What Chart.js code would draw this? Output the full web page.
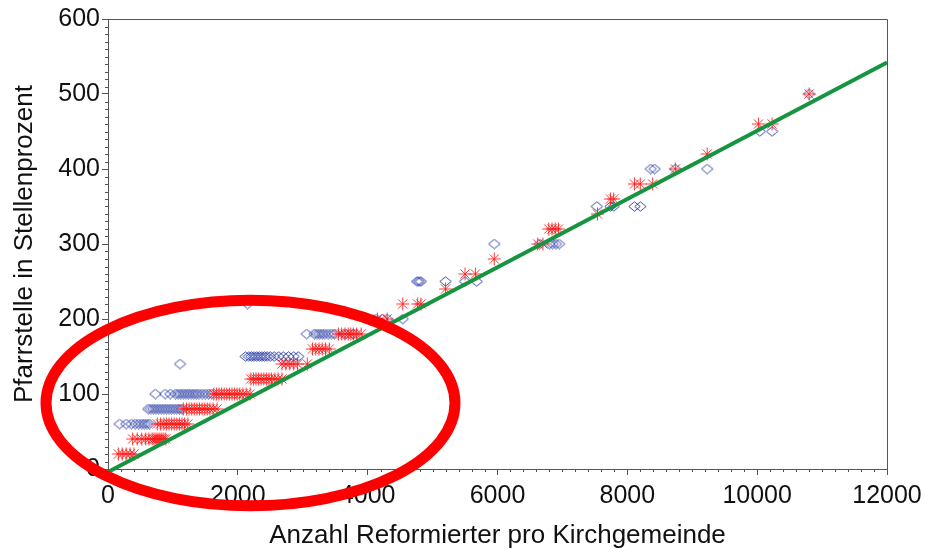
<!DOCTYPE html>
<html>
<head>
<meta charset="utf-8">
<script src="https://cdn.jsdelivr.net/npm/chart.js@4"></script>
<style>
  html, body { margin: 0; padding: 0; background: #ffffff; }
  #wrap { width: 925px; height: 549px; }
</style>
</head>
<body>
<div id="wrap"><canvas id="chart" width="925" height="549"></canvas></div>
<script>
// Pfarrstellen (in %) against number of Reformed members per parish
const diamondPoints = [
  [180, 60], [280, 60], [360, 60], [420, 60], [470, 60], [520, 60], [560, 60], [600, 60], [640, 60],
  [620, 80], [660, 80], [700, 80], [740, 80], [780, 80], [820, 80], [860, 80], [900, 80], [940, 80],
  [980, 80], [1020, 80], [1060, 80], [1100, 80], [1140, 80],
  [730, 100], [880, 100], [960, 100], [1040, 100], [1080, 100], [1120, 100], [1160, 100], [1200, 100],
  [1240, 100], [1280, 100], [1320, 100], [1360, 100], [1400, 100], [1450, 100], [1500, 100], [1550, 100], [1600, 100],
  [1110, 140],
  [2120, 150], [2170, 150], [2210, 150], [2250, 150], [2290, 150], [2330, 150], [2370, 150], [2410, 150],
  [2450, 150], [2500, 150], [2560, 150], [2630, 150], [2700, 150], [2780, 150], [2860, 150], [2930, 150],
  [2150, 220],
  [3060, 180], [3180, 180], [3220, 180], [3260, 180], [3300, 180], [3340, 180], [3390, 180], [3440, 180],
  [3490, 180], [3650, 180], [3780, 180],
  [4130, 200], [4230, 200], [4300, 200], [4540, 200],
  [4760, 250], [4790, 250], [4820, 250], [5200, 250], [5500, 250], [5680, 250],
  [5950, 300], [6650, 300], [6800, 300], [6850, 300], [6900, 300], [6950, 300],
  [7530, 350], [7740, 350], [7790, 350], [8110, 350], [8200, 350],
  [8360, 400], [8420, 400], [8740, 400], [9230, 400],
  [10040, 450], [10230, 450],
  [10800, 500]
];

const starPoints = [
  [160, 20], [220, 20], [280, 20], [340, 20], [400, 20],
  [380, 40], [450, 40], [520, 40], [580, 40], [630, 40], [680, 40], [710, 40], [740, 40], [770, 40],
  [800, 40], [830, 40], [860, 40], [890, 40],
  [760, 60], [810, 60], [860, 60], [900, 60], [940, 60], [980, 60], [1020, 60], [1060, 60], [1100, 60],
  [1140, 60], [1180, 60], [1230, 60],
  [1160, 80], [1210, 80], [1250, 80], [1290, 80], [1330, 80], [1370, 80], [1410, 80], [1450, 80],
  [1490, 80], [1530, 80], [1570, 80], [1620, 80], [1680, 80],
  [1630, 100], [1670, 100], [1710, 100], [1750, 100], [1790, 100], [1830, 100], [1870, 100], [1910, 100],
  [1950, 100], [1990, 100], [2030, 100], [2080, 100], [2130, 100], [2190, 100],
  [2200, 120], [2240, 120], [2280, 120], [2320, 120], [2360, 120], [2400, 120], [2440, 120], [2480, 120],
  [2520, 120], [2570, 120], [2620, 120], [2680, 120],
  [2680, 140], [2740, 140], [2800, 140], [2860, 140], [2920, 140], [3070, 140],
  [3150, 160], [3200, 160], [3250, 160], [3300, 160], [3350, 160], [3410, 160],
  [3550, 180], [3600, 180], [3650, 180], [3700, 180], [3740, 180], [3780, 180], [3830, 180], [3900, 180],
  [4150, 200], [4300, 200],
  [4540, 220], [4770, 220], [4820, 220],
  [5200, 240],
  [5500, 260], [5660, 260],
  [5950, 280],
  [6620, 300], [6700, 300],
  [6790, 320], [6840, 320], [6890, 320], [6940, 320],
  [7540, 340],
  [7740, 360], [7790, 360],
  [8110, 380], [8200, 380], [8390, 380],
  [8740, 400],
  [9230, 420],
  [10020, 460], [10230, 460],
  [10800, 500]
];

// Linear fit: Pfarrstelle = intercept + slope * members
const fitX = [0, 12000];
const fitY = [-4, 542];

const xTicks = [0, 2000, 4000, 6000, 8000, 10000, 12000];
const yTicks = [0, 100, 200, 300, 400, 500, 600];

const toXY = arr => arr.map(([x, y]) => ({ x, y }));

// open diamond marker
function makeDiamond() {
  const c = document.createElement('canvas');
  c.width = 13; c.height = 11;
  const g = c.getContext('2d');
  g.strokeStyle = 'rgba(40, 60, 165, 0.9)';
  g.lineWidth = 1;
  g.beginPath();
  g.moveTo(0.8, 5.5); g.lineTo(6.5, 0.8); g.lineTo(12.2, 5.5); g.lineTo(6.5, 10.2);
  g.closePath();
  g.stroke();
  return c;
}

const AXIS_COLOR = '#555555';
const TEXT_COLOR = '#111111';
const FONT = '"Liberation Sans", Arial, sans-serif';

// circled region, in data units
const highlight = { cx: 2195, cy: 88, rx: 3150, ry: 137 };

const framePlugin = {
  id: 'frame',
  afterDatasetsDraw(chart) {
    const { ctx, chartArea: a, scales: { x, y } } = chart;
    ctx.save();
    ctx.strokeStyle = AXIS_COLOR;
    ctx.lineWidth = 1;
    // top and right frame
    ctx.beginPath();
    ctx.moveTo(Math.round(a.left) + 0.5, Math.round(a.top) + 0.5);
    ctx.lineTo(Math.round(a.right) + 0.5, Math.round(a.top) + 0.5);
    ctx.lineTo(Math.round(a.right) + 0.5, Math.round(a.bottom) + 0.5);
    ctx.stroke();
    // minor ticks
    ctx.beginPath();
    for (let v = 10; v < 600; v += 10) {
      if (v % 100 === 0) continue;
      const py = Math.round(y.getPixelForValue(v)) + 0.5;
      ctx.moveTo(a.left, py);
      ctx.lineTo(a.left - 3, py);
    }
    for (let v = 200; v < 12000; v += 200) {
      if (v % 2000 === 0) continue;
      const px = Math.round(x.getPixelForValue(v)) + 0.5;
      ctx.moveTo(px, a.bottom);
      ctx.lineTo(px, a.bottom + 3);
    }
    ctx.stroke();
    ctx.restore();
  },
  afterDraw(chart) {
    const { ctx, scales: { x, y } } = chart;
    const cx = x.getPixelForValue(highlight.cx);
    const cy = y.getPixelForValue(highlight.cy);
    const rx = Math.abs(x.getPixelForValue(highlight.cx + highlight.rx) - cx);
    const ry = Math.abs(y.getPixelForValue(highlight.cy + highlight.ry) - cy);
    ctx.save();
    ctx.strokeStyle = '#ff0000';
    ctx.lineWidth = 11;
    ctx.beginPath();
    ctx.ellipse(cx, cy, rx, ry, 0, 0, Math.PI * 2);
    ctx.stroke();
    ctx.restore();
  }
};

new Chart(document.getElementById('chart'), {
  type: 'scatter',
  data: {
    datasets: [
      {
        type: 'line',
        label: 'Regression',
        data: fitX.map((x, i) => ({ x, y: fitY[i] })),
        borderColor: '#17943f',
        borderWidth: 4,
        pointRadius: 0,
        fill: false,
        clip: false
      },
      {
        label: 'Sternchen',
        data: toXY(starPoints),
        pointStyle: 'star',
        pointRadius: 6.5,
        borderColor: 'rgba(255, 25, 25, 0.85)',
        backgroundColor: 'rgba(255, 25, 25, 0.85)',
        borderWidth: 1
      },
      {
        label: 'Rauten',
        data: toXY(diamondPoints),
        pointStyle: makeDiamond(),
        pointRadius: 5
      }
    ]
  },
  options: {
    responsive: false,
    animation: false,
    devicePixelRatio: 1,
    layout: { padding: { top: 19, right: 38, left: 0, bottom: 0 } },
    plugins: { legend: { display: false }, tooltip: { enabled: false } },
    scales: {
      x: {
        type: 'linear',
        min: 0,
        max: 12000,
        afterBuildTicks: s => { s.ticks = xTicks.map(v => ({ value: v })); },
        afterFit: s => { s.height = 80; s.paddingLeft = 0; s.paddingRight = 0; },
        ticks: {
          color: TEXT_COLOR,
          font: { family: FONT, size: 25 },
          padding: 6,
          maxRotation: 0,
          callback: v => String(v)
        },
        grid: { drawOnChartArea: false, drawTicks: true, tickLength: 6, color: AXIS_COLOR },
        border: { display: true, color: AXIS_COLOR, width: 1 },
        title: {
          display: true,
          text: 'Anzahl Reformierter pro Kirchgemeinde',
          color: TEXT_COLOR,
          font: { family: FONT, size: 26 },
          padding: { top: 0, bottom: -2 }
        }
      },
      y: {
        type: 'linear',
        min: 0,
        max: 600,
        afterBuildTicks: s => { s.ticks = yTicks.map(v => ({ value: v })); },
        afterFit: s => { s.width = 108; s.paddingTop = 0; s.paddingBottom = 0; },
        ticks: {
          color: TEXT_COLOR,
          font: { family: FONT, size: 25 },
          padding: 2,
          callback: v => String(v)
        },
        grid: { drawOnChartArea: false, drawTicks: true, tickLength: 6, color: AXIS_COLOR },
        border: { display: true, color: AXIS_COLOR, width: 1 },
        title: {
          display: true,
          text: 'Pfarrstelle in Stellenprozent',
          color: TEXT_COLOR,
          font: { family: FONT, size: 26 },
          padding: { top: 9, bottom: 0 }
        }
      }
    }
  },
  plugins: [framePlugin]
});
</script>
</body>
</html>
